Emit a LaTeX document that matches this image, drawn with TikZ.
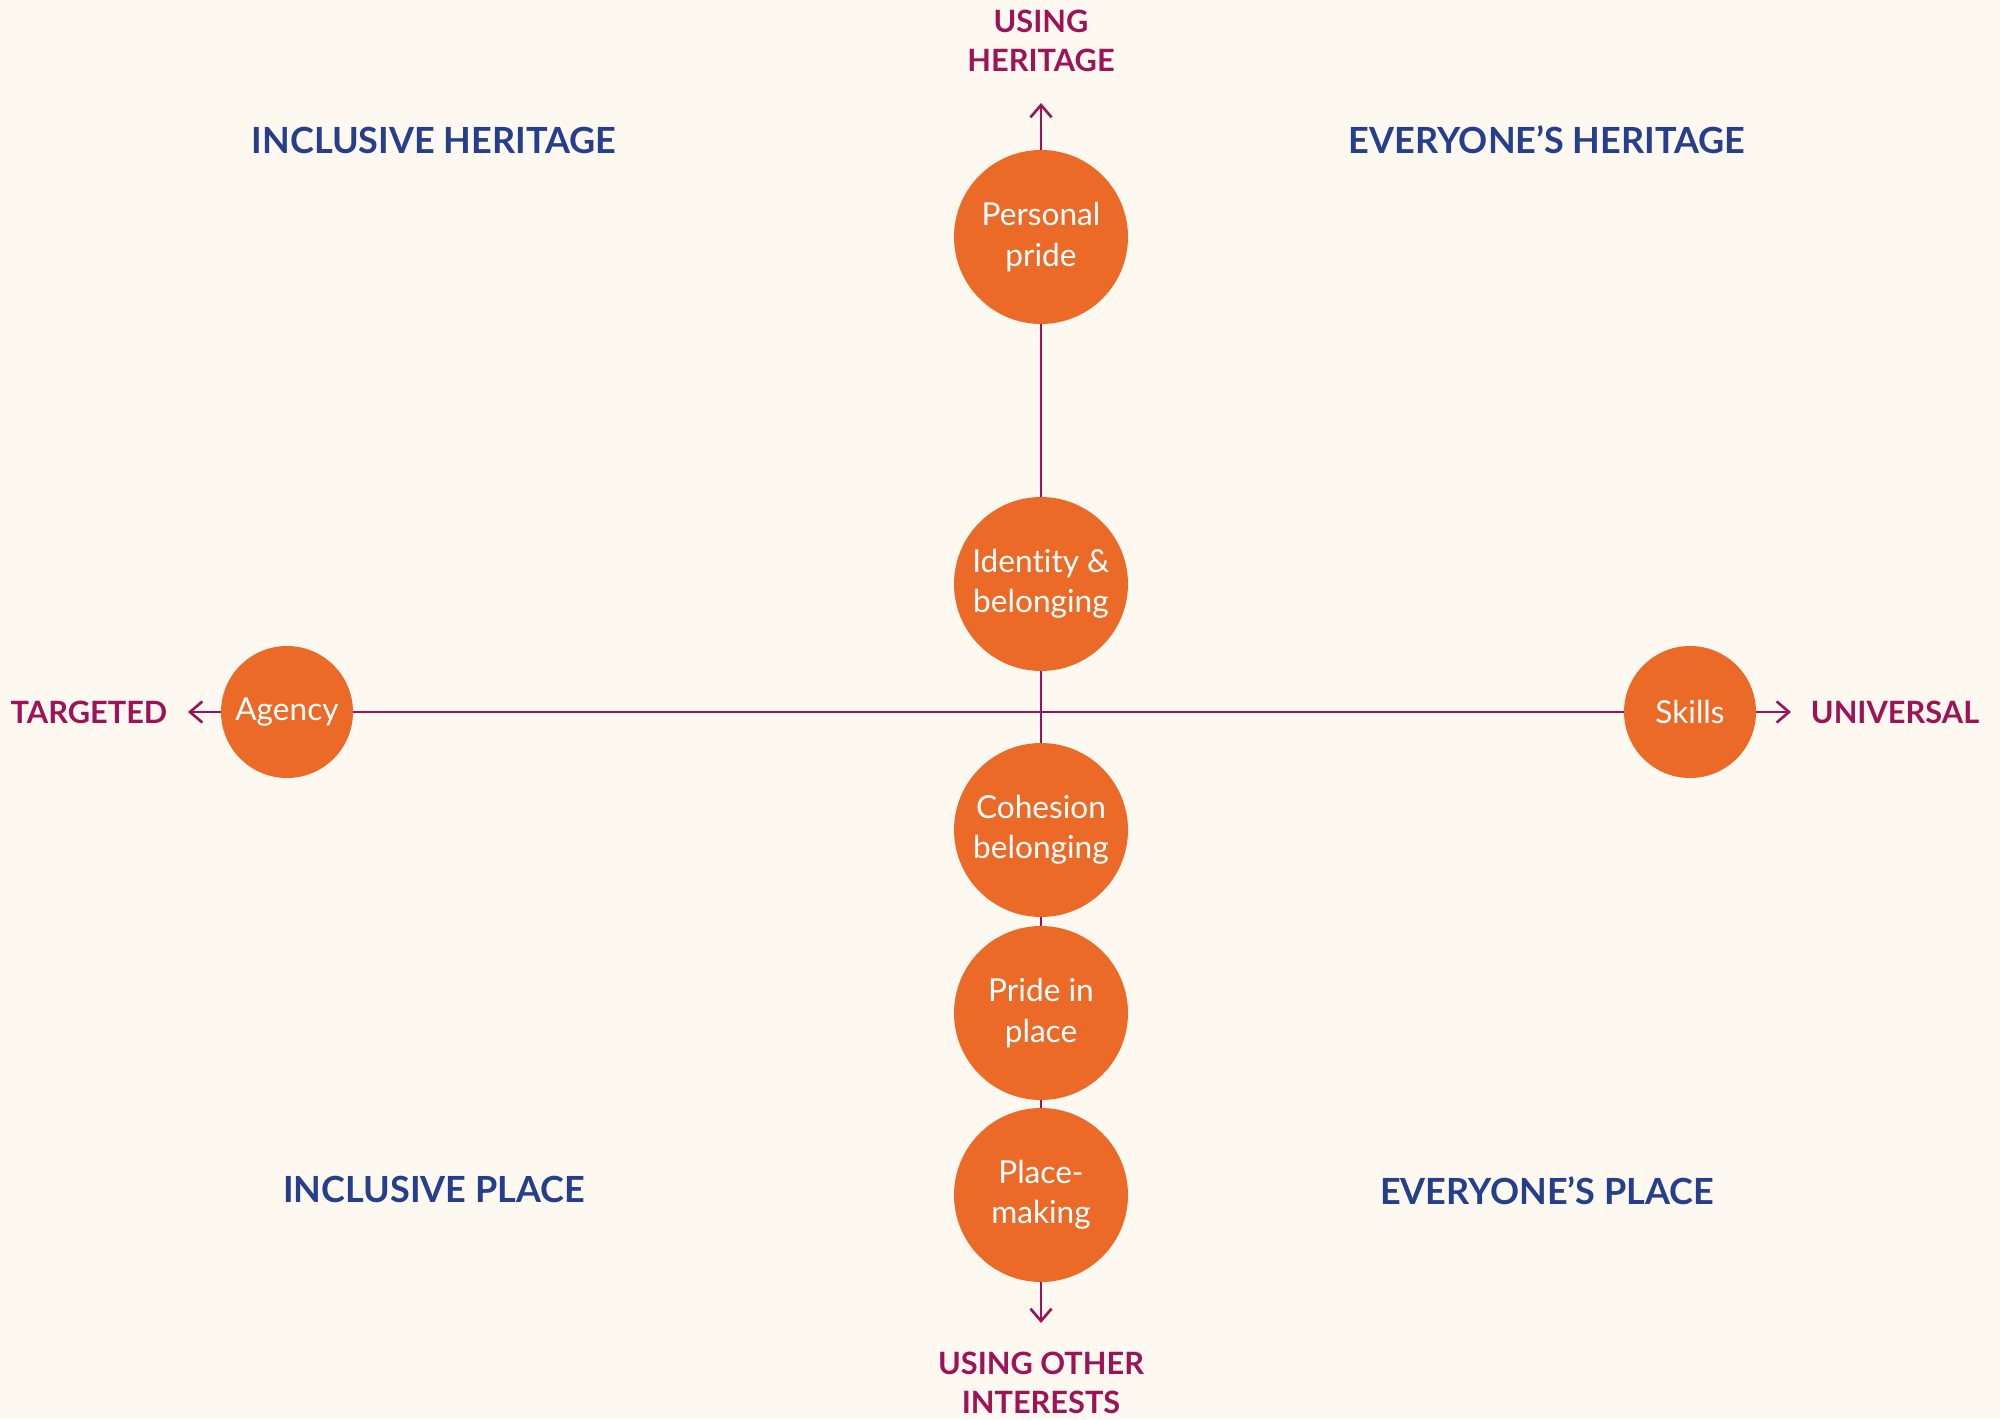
\documentclass[tikz,border=0pt]{standalone}
\usepackage{fontspec}
\setmainfont{Lato}[Ligatures={NoCommon,NoRare}]
\usetikzlibrary{arrows.meta}
\definecolor{bg}{HTML}{FDF8F0}
\definecolor{orng}{HTML}{EC6A28}
\definecolor{mag}{HTML}{9E1356}
\definecolor{navy}{HTML}{253F8C}
\begin{document}
\begin{tikzpicture}[x=0.02cm,y=-0.02cm,
 big/.style={circle,fill=orng,minimum size=3.48cm,inner sep=0pt,text=white,font=\fontsize{18}{23}\selectfont,align=center},
 small/.style={circle,fill=orng,minimum size=2.64cm,inner sep=0pt,text=white,font=\fontsize{18}{23}\selectfont},
 axislbl/.style={text=mag,font=\bfseries\fontsize{17.5}{22.5}\selectfont,align=center},
 quad/.style={text=navy,font=\bfseries\fontsize{20.5}{26}\selectfont},
 axis/.style={draw=mag,line width=1.5pt},
 tip/.style={-{Straight Barb[length=7pt,width=12pt,line width=1.5pt]}}
]
\fill[bg] (0,0) rectangle (2000,1419);
\useasboundingbox (0,0) rectangle (2000,1419);
\node[big] (pp) at (1041,237) {Personal\\pride};
\node[big] (id) at (1041,584) {Identity \&\\belonging};
\node[big] (co) at (1041,830) {Cohesion\\belonging};
\node[big] (pr) at (1041,1013) {Pride in\\place};
\node[big] (pm) at (1041,1195) {Place-\\making};
\node[small] (ag) at (287,712) {Agency};
\node[small] (sk) at (1690,712) {Skills};
\coordinate (tN) at (1041,103);
\coordinate (tS) at (1041,1323);
\coordinate (tW) at (188,712);
\coordinate (tE) at (1791,712);
\draw[axis] (pp) -- (id);
\draw[axis] (id) -- (co);
\draw[axis] (co) -- (pr);
\draw[axis] (pr) -- (pm);
\draw[axis] (ag) -- (sk);
\draw[axis,tip] (pp) -- (tN);
\draw[axis,tip] (pm) -- (tS);
\draw[axis,tip] (ag) -- (tW);
\draw[axis,tip] (sk) -- (tE);
\node[axislbl] (lN) at (1041,41) {USING\\HERITAGE};
\node[axislbl] (lS) at (1041,1383) {USING OTHER\\INTERESTS};
\node[axislbl] (lW) at (89,712) {TARGETED};
\node[axislbl] (lE) at (1895,712) {UNIVERSAL};
\node[quad] (q1) at (434,140) {INCLUSIVE HERITAGE};
\node[quad] (q2) at (1547,140) {EVERYONE’S HERITAGE};
\node[quad] (q3) at (434,1189) {INCLUSIVE PLACE};
\node[quad] (q4) at (1547,1191) {EVERYONE’S PLACE};
\end{tikzpicture}
\end{document}
